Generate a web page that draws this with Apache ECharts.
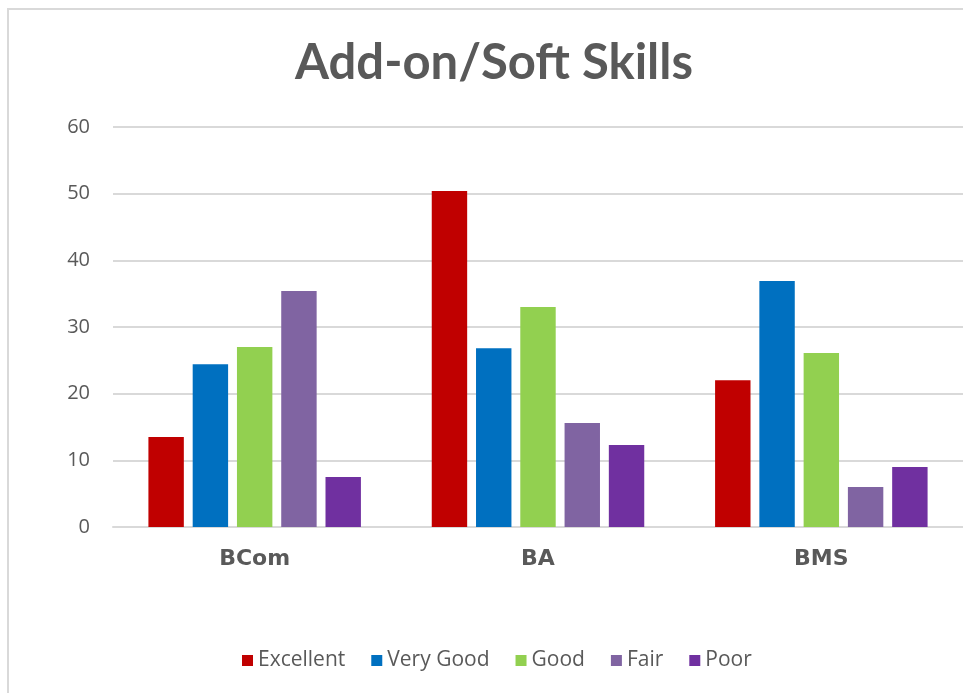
<!DOCTYPE html>
<html><head><meta charset="utf-8">
<script src="https://cdn.jsdelivr.net/npm/echarts@6/dist/echarts.min.js"></script>
<style>html,body{margin:0;padding:0;background:#fff}#c{width:963px;height:693px}</style>
</head><body><div id="c"></div>
<script>
const categories = ['BCom', 'BA', 'BMS'];
const seriesNames = ['Excellent', 'Very Good', 'Good', 'Fair', 'Poor'];
const excellent = [13.5, 50.4, 22.0];
const veryGood = [24.4, 26.8, 36.9];
const good = [27.0, 33.0, 26.1];
const fair = [35.4, 15.6, 6.0];
const poor = [7.5, 12.3, 9.0];
const colors = ['#C00000', '#0070C0', '#92D050', '#8064A2', '#7030A0'];
const values = [excellent, veryGood, good, fair, poor];

const chart = echarts.init(document.getElementById('c'));
chart.setOption({
  animation: false,
  title: {
    text: 'Add-on/Soft Skills', left: 290, top: 34,
    textStyle: { fontFamily: 'Lato', fontWeight: 'bold', fontSize: 49, color: '#595959' }
  },
  graphic: [{ type: 'rect', shape: { x: 8, y: 9, width: 980, height: 700 }, style: { fill: 'none', stroke: '#d9d9d9', lineWidth: 2 }, silent: true }],
  grid: { left: 113, right: 0, top: 127, bottom: 166 },
  legend: {
    bottom: 17, left: 237, itemWidth: 11, itemHeight: 11, itemGap: 26, icon: 'rect',
    textStyle: { fontFamily: 'Open Sans', fontSize: 21, color: '#595959' },
    data: seriesNames
  },
  xAxis: {
    type: 'category', data: categories,
    axisLine: { lineStyle: { color: '#d9d9d9', width: 2 } },
    axisTick: { show: false },
    axisLabel: { margin: 21, fontFamily: 'DejaVu Sans', fontWeight: 'bold', fontSize: 22, color: '#595959' }
  },
  yAxis: {
    type: 'value', min: 0, max: 60, interval: 10,
    axisLine: { show: false }, axisTick: { show: false },
    splitLine: { lineStyle: { color: '#d9d9d9', width: 2 } },
    axisLabel: { margin: 23, fontFamily: 'Open Sans', fontSize: 20, color: '#595959' }
  },
  series: seriesNames.map((n, i) => ({
    name: n, type: 'bar', data: values[i], itemStyle: { color: colors[i] },
    barGap: '25%', barCategoryGap: '25%'
  }))
});
</script></body></html>
